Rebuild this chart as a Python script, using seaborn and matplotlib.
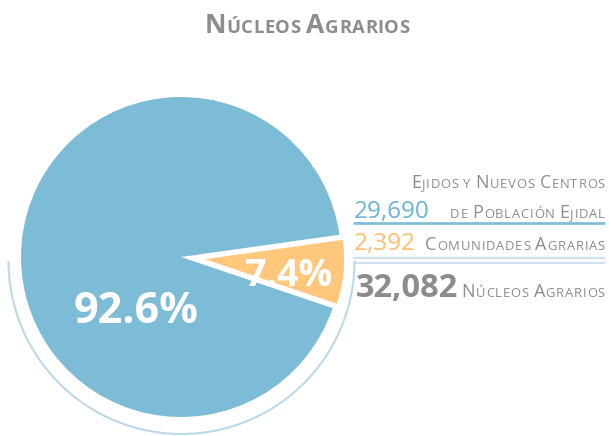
import numpy as np
import pandas as pd
import seaborn as sns
import matplotlib.pyplot as plt
from matplotlib.patches import Arc

sns.set_style("white")
plt.rcParams['font.family'] = ['Open Sans', 'DejaVu Sans']

# datos
titulo = "Núcleos Agrarios"
categorias = ["Ejidos y Nuevos Centros de Población Ejidal", "Comunidades Agrarias"]
nucleos = [29690, 2392]
porcentajes = [92.6, 7.4]
etiqueta_total = "Núcleos Agrarios"

df = pd.DataFrame({'categoria': categorias, 'nucleos': nucleos, 'pct': porcentajes})
total = df['nucleos'].sum()

W, H = 609, 436
fig = plt.figure(figsize=(W / 100, H / 100), dpi=100)
ax = fig.add_axes([0, 0, 1, 1])

AZUL = "#7DBCD7"
NARANJA = "#FFC77B"
AZUL_TXT = "#6DB3D5"
NARANJA_TXT = "#FDBE6E"
GRIS = "#8C8C8E"
CLARO = "#BCD9E9"

R = 160
cx, cy = 181, H - 257
wedges, texts, autotexts = ax.pie(
    df['pct'], colors=[AZUL, NARANJA], startangle=8, radius=R,
    center=(cx, cy), explode=[0, 0.15 * R], autopct='%.1f%%',
    wedgeprops=dict(linewidth=0),
    textprops=dict(color='white', fontweight='bold'))
wedges[1].set_radius(0.87 * R)

autotexts[0].set_position((136, H - 323))
autotexts[0].set_fontsize(31)
autotexts[1].set_position((289, H - 286))
autotexts[1].set_fontsize(27)
for t in autotexts:
    t.set_ha('center')
    t.set_va('baseline')

ax.set_xlim(0, W)
ax.set_ylim(0, H)
ax.set_aspect('auto')
ax.axis('off')

# arco y lineas
ax.add_patch(Arc((181.5, H - 261), 2 * 173, 2 * 173, theta1=180, theta2=360,
                 color=CLARO, lw=1.5))
ax.plot([353, 605], [H - 223, H - 223], color=AZUL, lw=1.9, solid_capstyle='butt')
ax.plot([353, 605], [H - 257.5, H - 257.5], color=CLARO, lw=1.1, solid_capstyle='butt')
ax.plot([354, 605], [H - 262.5, H - 262.5], color=CLARO, lw=1.1, solid_capstyle='butt')

renderer = fig.canvas.get_renderer()
_cache = {}


def ancho(s, size, weight):
    key = (s, size, weight)
    if key not in _cache:
        t1 = ax.text(0, 0, '|' + s + '|', fontsize=size, fontweight=weight)
        t2 = ax.text(0, 0, '||', fontsize=size, fontweight=weight)
        _cache[key] = (t1.get_window_extent(renderer).width
                       - t2.get_window_extent(renderer).width)
        t1.remove()
        t2.remove()
    return _cache[key]


def versalitas(x, y, s, size, color, ha='right', weight='normal',
               ratio=0.72, track=0.8):
    piezas = []
    for ch in s:
        sz = size if ch.isupper() else size * ratio
        piezas.append((ch.upper(), sz, ancho(ch.upper(), sz, weight)))
    tot = sum(p[2] for p in piezas) + track * (len(piezas) - 1)
    x0 = x - tot if ha == 'right' else (x - tot / 2 if ha == 'center' else x)
    for ch, sz, w in piezas:
        ax.text(x0, y, ch, fontsize=sz, color=color, fontweight=weight,
                ha='left', va='baseline')
        x0 += w + track


versalitas(307, H - 33, titulo, 19, GRIS, ha='center', weight='bold',
           ratio=0.7, track=0.5)

linea1, linea2 = categorias[0].split(" de ")
versalitas(605, H - 188, linea1, 13, GRIS)
versalitas(605, H - 218, "de " + linea2, 13, GRIS)
versalitas(605, H - 250, categorias[1], 13, GRIS)
versalitas(605, H - 297, etiqueta_total, 13, GRIS)

ax.text(354, H - 218, f"{df['nucleos'][0]:,}", fontsize=17.5, color=AZUL_TXT,
        ha='left', va='baseline')
ax.text(354, H - 250, f"{df['nucleos'][1]:,}", fontsize=17.5, color=NARANJA_TXT,
        ha='left', va='baseline')
ax.text(356, H - 297, f"{total:,}", fontsize=23.5, color=GRIS, fontweight='bold',
        ha='left', va='baseline')

fig.savefig("out.png", dpi=100)
